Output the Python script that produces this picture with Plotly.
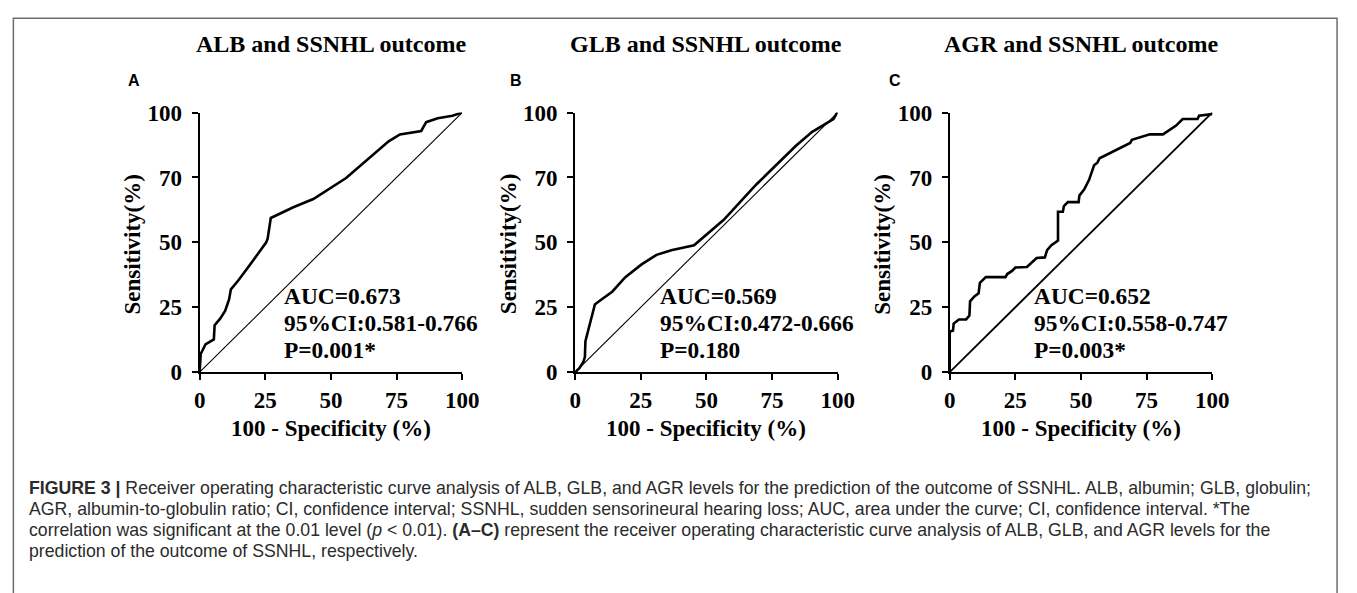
import plotly.graph_objects as go

W, H = 1357, 593

# ---------------- data (axis position units 0-100) ----------------
alb_x = [0, 0.4, 2.2, 5.4, 5.7, 7.8, 9.7, 11.2, 11.9, 14.7, 18.4, 25.3, 25.9, 27.1,
         35.9, 43.3, 55.8, 63.3, 72.0, 76.3, 84.4, 86.3, 90.7, 96.3, 100]
alb_y = [0, 7.0, 10.7, 12.6, 18.1, 20.6, 23.6, 28.0, 31.9, 35.3, 40.3, 49.9, 51.4, 59.4,
         63.6, 66.7, 74.8, 81.5, 88.9, 91.6, 92.9, 96.3, 97.8, 98.8, 100]

glb_x = [0, 1.6, 3.1, 3.7, 3.9, 5.4, 7.5, 9.1, 14.1, 19.1, 25.3, 31.0, 36.6, 45.3,
         50.3, 56.6, 62.8, 69.0, 76.5, 84.0, 90.3, 98.4, 99.6, 100]
glb_y = [0, 1.5, 3.9, 5.8, 11.9, 18.1, 26.1, 27.3, 31.0, 36.6, 41.5, 45.2, 47.0, 48.9,
         53.2, 58.7, 65.5, 72.3, 79.7, 87.1, 92.6, 97.5, 99.6, 100]

agr_x = [0, 0, 1.25, 1.5, 3.5, 6.25, 7.5, 7.75, 9.4, 11.0, 11.5, 13.75, 21.25, 21.9,
         23.75, 25.0, 29.4, 31.25, 33.1, 36.25, 37.1, 38.75, 41.25, 41.25, 43.1, 43.5,
         45.0, 49.1, 49.4, 51.25, 53.1, 55.0, 56.25, 57.1, 61.25, 68.75, 69.4, 76.25,
         81.25, 86.25, 88.75, 94.4, 95.0, 100, 100]
agr_y = [0, 15.6, 16.0, 18.7, 20.3, 20.3, 21.8, 27.3, 29.2, 30.4, 34.4, 36.6, 36.6, 37.8,
         39.0, 40.3, 40.5, 42.1, 44.0, 44.2, 47.0, 48.9, 50.7, 61.8, 61.8, 64.0,
         65.5, 65.5, 68.0, 70.4, 74.1, 79.7, 80.7, 82.4, 84.6, 88.3, 89.5, 91.6,
         91.6, 95.0, 97.5, 97.5, 98.8, 99.4, 100]

ref_x = [0, 100]
ref_y = [0, 100]

tick_vals = [0, 25, 50, 75, 100]
x_tick_text = ["0", "25", "50", "75", "100"]
y_tick_text = ["0", "25", "50", "70", "100"]

titles = ["ALB and SSNHL outcome", "GLB and SSNHL outcome", "AGR and SSNHL outcome"]
letters = ["A", "B", "C"]
auc_lines = [
    ["AUC=0.673", "95%CI:0.581-0.766", "P=0.001*"],
    ["AUC=0.569", "95%CI:0.472-0.666", "P=0.180"],
    ["AUC=0.652", "95%CI:0.558-0.747", "P=0.003*"],
]
diag_widths = [1.1, 1.1, 1.8]

caption = [
    "<b>FIGURE 3 |</b> Receiver operating characteristic curve analysis of ALB, GLB, and AGR levels for the prediction of the outcome of SSNHL. ALB, albumin; GLB, globulin;",
    "AGR, albumin-to-globulin ratio; CI, confidence interval; SSNHL, sudden sensorineural hearing loss; AUC, area under the curve; CI, confidence interval. *The",
    "correlation was significant at the 0.01 level (<i>p</i> &lt; 0.01). <b>(A–C)</b> represent the receiver operating characteristic curve analysis of ALB, GLB, and AGR levels for the",
    "prediction of the outcome of SSNHL, respectively.",
]

# ---------------- layout geometry (pixels) ----------------
plot_left = [197, 579, 960]
plot_w = 267
plot_top, plot_bot = 105, 376

def px(x):
    return x / W

def py(y):
    return 1 - y / H

SERIF = "Liberation Serif"
fig = go.Figure()

series = [(alb_x, alb_y), (glb_x, glb_y), (agr_x, agr_y)]
for i, (sx, sy) in enumerate(series):
    ax = "" if i == 0 else str(i + 1)
    fig.add_trace(go.Scatter(x=ref_x, y=ref_y, mode="lines",
                             line=dict(color="black", width=diag_widths[i]),
                             xaxis="x" + ax, yaxis="y" + ax, showlegend=False,
                             hoverinfo="skip"))
    fig.add_trace(go.Scatter(x=sx, y=sy, mode="lines",
                             line=dict(color="black", width=2.6),
                             xaxis="x" + ax, yaxis="y" + ax, showlegend=False))

axis_common = dict(
    range=[0, 100], showgrid=False, zeroline=False, showline=True,
    linecolor="black", linewidth=2, ticks="outside", ticklen=6, tickwidth=2,
    tickcolor="black", tickvals=tick_vals,
    tickfont=dict(family=SERIF, size=23, color="black", weight="bold"),
    fixedrange=True,
)

layout = dict(
    width=W, height=H, margin=dict(l=0, r=0, t=0, b=0),
    paper_bgcolor="white", plot_bgcolor="white", showlegend=False,
)
for i in range(3):
    suf = "" if i == 0 else str(i + 1)
    x0 = plot_left[i]
    layout["xaxis" + suf] = dict(axis_common, domain=[px(x0), px(x0 + plot_w)],
                                 ticktext=x_tick_text, anchor="y" + suf)
    layout["yaxis" + suf] = dict(axis_common, domain=[py(plot_bot), py(plot_top)],
                                 ticktext=y_tick_text, anchor="x" + suf,
                                 ticklabelstandoff=5)
fig.update_layout(**layout)

ann = []
letter_x = [130, 519, 904]
ytitle_x = [129, 511, 892]
for i in range(3):
    suf = "" if i == 0 else str(i + 1)
    cx = plot_left[i] + plot_w / 2
    ann.append(dict(text="<b>" + titles[i] + "</b>", x=px(cx), y=py(33),
                    xref="paper", yref="paper", showarrow=False,
                    xanchor="center", yanchor="middle",
                    font=dict(family=SERIF, size=24, color="black")))
    ann.append(dict(text="<b>" + letters[i] + "</b>", x=px(letter_x[i]), y=py(72),
                    xref="paper", yref="paper", showarrow=False,
                    xanchor="center", yanchor="middle",
                    font=dict(family="Liberation Sans", size=16, color="black")))
    ann.append(dict(text="<b>100 - Specificity (%)</b>", x=px(cx), y=py(435),
                    xref="paper", yref="paper", showarrow=False,
                    xanchor="center", yanchor="middle",
                    font=dict(family=SERIF, size=23, color="black")))
    ann.append(dict(text="<b>Sensitivity(%)</b>", x=px(ytitle_x[i]),
                    y=py(242), textangle=-90,
                    xref="paper", yref="paper", showarrow=False,
                    xanchor="center", yanchor="middle",
                    font=dict(family=SERIF, size=23, color="black")))
    for j, line in enumerate(auc_lines[i]):
        ypos = [297, 325, 353][j]
        ann.append(dict(text="<b>" + line + "</b>", x=31.5,
                        y=(plot_bot - ypos) / (plot_bot - plot_top) * 100,
                        xref="x" + suf, yref="y" + suf, showarrow=False,
                        xanchor="left", yanchor="middle",
                        font=dict(family=SERIF, size=23.4, color="black")))

for k, line in enumerate(caption):
    ann.append(dict(text=line, x=px(21), y=py(497 + 21.8 * k),
                    xref="paper", yref="paper", showarrow=False,
                    xanchor="left", yanchor="middle",
                    font=dict(family="Liberation Sans", size=17.7, color="#2b2b2b")))

fig.update_layout(annotations=ann)

fig.add_shape(type="rect", xref="paper", yref="paper",
              x0=px(7.5), x1=px(1354), y0=py(620), y1=py(6.5),
              line=dict(color="#6e6e6e", width=1.5), fillcolor="rgba(0,0,0,0)")

fig.write_html("out.html")
